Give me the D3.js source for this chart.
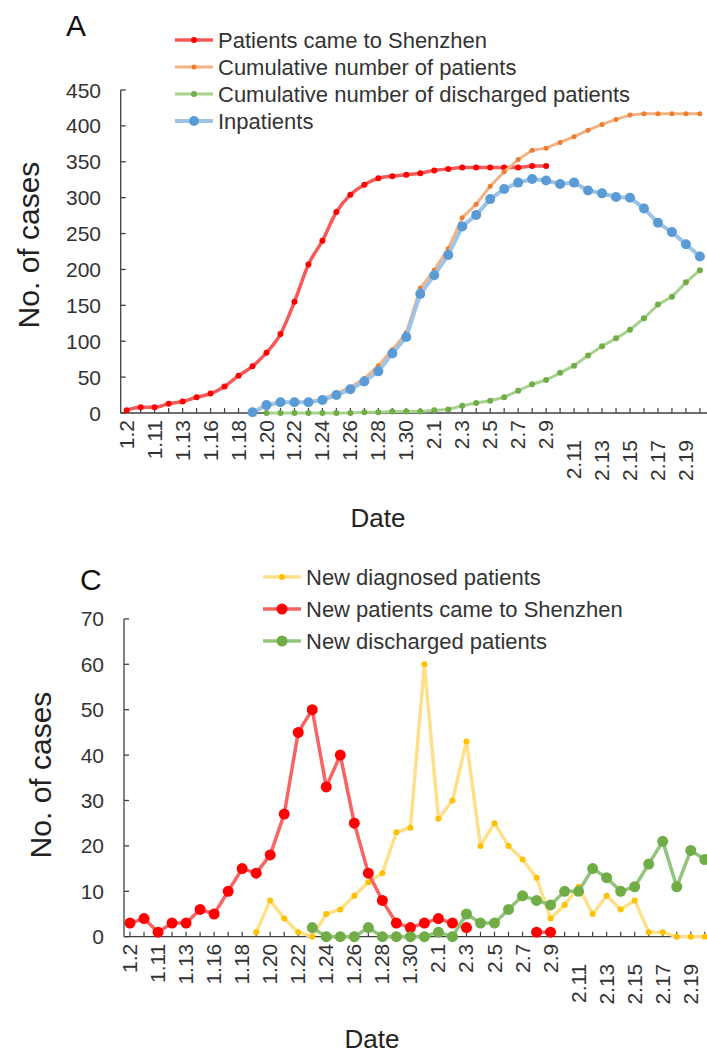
<!DOCTYPE html>
<html>
<head>
<meta charset="utf-8">
<script src="https://cdn.jsdelivr.net/npm/d3@7"></script>
<style>
body { margin: 0; background: #fff; }
svg { display: block; font-family: "Liberation Sans", Arial, sans-serif; }
</style>
</head>
<body>
<svg id="chart" width="707" height="1055"></svg>
<script>
"use strict";

const N = null;

// categories (x axis)
const dates = ["1.2", "1.10", "1.11", "1.12", "1.13", "1.15", "1.16", "1.17", "1.18", "1.19",
    "1.20", "1.21", "1.22", "1.23", "1.24", "1.25", "1.26", "1.27", "1.28", "1.29", "1.30", "1.31",
    "2.1", "2.2", "2.3", "2.4", "2.5", "2.6", "2.7", "2.8", "2.9", "2.10",
    "2.11", "2.12", "2.13", "2.14", "2.15", "2.16", "2.17", "2.18", "2.19", "2.20"];

// panel A series
const cameToShenzhen = [4, 8, 8, 13, 16, 22, 27, 37, 52, 65, 84, 110, 155, 207, 240, 280, 304, 318, 327, 330,
    332, 334, 338, 340, 342, 342, 342, 342, 342, 344, 344, N, N, N, N, N, N, N, N, N, N, N];
const cumulativePatients = [N, N, N, N, N, N, N, N, N, 1, 10, 15, 15, 15, 20, 27, 36, 48, 66, 88,
    112, 174, 199, 229, 272, 291, 316, 336, 353, 366, 369, 377, 385, 394, 402, 409, 415, 417, 417, 417, 417, 417];
const cumulativeDischarged = [N, N, N, N, N, N, N, N, N, N, 0, 0, 0, 0, 0, 0, 0, 1, 1, 2,
    2, 2, 4, 5, 10, 14, 17, 22, 31, 40, 46, 56, 66, 80, 93, 104, 116, 132, 151, 162, 182, 199];
const inpatients = [N, N, N, N, N, N, N, N, N, 1, 11, 15, 15, 15, 18, 25, 33, 44, 58, 83,
    106, 166, 192, 220, 260, 276, 298, 312, 321, 326, 324, 319, 321, 310, 306, 301, 300, 285, 265, 252, 235, 218];

// panel C series
const newDiagnosed = [N, N, N, N, N, N, N, N, N, 1, 8, 4, 1, 0, 5, 6, 9, 12, 14, 23,
    24, 60, 26, 30, 43, 20, 25, 20, 17, 13, 4, 7, 11, 5, 9, 6, 8, 1, 1, 0, 0, 0];
const newCame = [3, 4, 1, 3, 3, 6, 5, 10, 15, 14, 18, 27, 45, 50, 33, 40, 25, 14, 8, 3,
    2, 3, 4, 3, 2, N, N, N, N, 1, 1, N, N, N, N, N, N, N, N, N, N, N];
const newDischarged = [N, N, N, N, N, N, N, N, N, N, N, N, N, 2, 0, 0, 0, 2, 0, 0,
    0, 0, 1, 0, 5, 3, 3, 6, 9, 8, 7, 10, 10, 15, 13, 10, 11, 16, 21, 11, 19, 17];

// y tick values
const ticksA = [0, 50, 100, 150, 200, 250, 300, 350, 400, 450];
const ticksC = [0, 10, 20, 30, 40, 50, 60, 70];


let svg = d3.select("#chart");
svg.append("rect").attr("width", 707).attr("height", 1055).attr("fill", "#fff");


function panel(p) {

    let g = svg.append("g");

    // scales
    let x = d3.scaleBand()
    .domain(dates)
    .range(p.xRange);
    let cx = d => x(d) + x.bandwidth() / 2;

    let y = d3.scaleLinear()
    .domain(p.yDomain)
    .range(p.yRange);

    const left = p.xRange[0] + 1, bottom = p.yRange[0], top = p.yRange[1];

    // y axis
    g.append("line")
    .attr("x1", left).attr("x2", left)
    .attr("y1", top).attr("y2", bottom)
    .attr("stroke", "#404040").attr("stroke-width", 1.3);
    g.selectAll("line.ytick")
    .data(p.ticks)
    .enter()
    .append("line")
    .attr("class", "ytick")
    .attr("x1", left).attr("x2", left + 5)
    .attr("y1", d => y(d)).attr("y2", d => y(d))
    .attr("stroke", "#404040").attr("stroke-width", 1.3);
    g.selectAll("text.ylab")
    .data(p.ticks)
    .enter()
    .append("text")
    .attr("class", "ylab")
    .attr("x", p.yLabelX)
    .attr("y", d => y(d))
    .attr("dy", "0.36em")
    .attr("text-anchor", "end")
    .attr("font-size", 21)
    .attr("fill", "#333")
    .text(d => d);

    // x axis
    g.append("line")
    .attr("x1", left).attr("x2", 707)
    .attr("y1", bottom).attr("y2", bottom)
    .attr("stroke", "#404040").attr("stroke-width", 1.3);
    g.selectAll("line.xtick")
    .data(dates)
    .enter()
    .append("line")
    .attr("class", "xtick")
    .attr("x1", cx).attr("x2", cx)
    .attr("y1", bottom).attr("y2", bottom - 5)
    .attr("stroke", "#404040").attr("stroke-width", 1.2);
    g.selectAll("text.xlab")
    .data(dates.filter((d, i) => i % 2 == 0))
    .enter()
    .append("text")
    .attr("class", "xlab")
    .attr("transform", d => {
        // two digit days in february sit lower, as in the source
        let shift = (d.startsWith("2.") && d.length > 3) ? 20 : 0;
        return `translate(${cx(d) + 7}, ${bottom + 7 + shift}) rotate(-90)`;
    })
    .attr("text-anchor", "end")
    .attr("font-size", 21)
    .attr("fill", "#333")
    .text(d => d);

    // axis titles + panel letter
    g.append("text")
    .attr("transform", `translate(${p.yTitle[0]}, ${p.yTitle[1]}) rotate(-90)`)
    .attr("text-anchor", "middle")
    .attr("font-size", 30)
    .attr("fill", "#222")
    .text("No. of cases");
    g.append("text")
    .attr("x", p.xTitle[0]).attr("y", p.xTitle[1])
    .attr("text-anchor", "middle")
    .attr("font-size", 26)
    .attr("fill", "#222")
    .text("Date");
    g.append("text")
    .attr("x", p.letter[0]).attr("y", p.letter[1])
    .attr("font-size", 30)
    .attr("fill", "#111")
    .text(p.name);

    // lines + markers
    p.series.forEach(s => {
        let line = d3.line()
        .defined(d => d != null)
        .x((d, i) => cx(dates[i]))
        .y(d => y(d))
        .curve(s.smooth ? d3.curveMonotoneX : d3.curveLinear);
        g.append("path")
        .datum(s.values)
        .attr("d", line)
        .attr("fill", "none")
        .attr("stroke", s.line)
        .attr("stroke-width", s.width)
        .attr("stroke-linejoin", "round");
        g.append("g")
        .selectAll("circle")
        .data(s.values.map((v, i) => [dates[i], v]).filter(d => d[1] != null))
        .enter()
        .append("circle")
        .attr("cx", d => cx(d[0]))
        .attr("cy", d => y(d[1]))
        .attr("r", s.r)
        .attr("fill", s.dot);
    });

    // legend
    p.legendOrder.forEach((k, i) => {
        let s = p.series[k];
        let ly = p.legend.y + i * p.legend.step;
        g.append("line")
        .attr("x1", p.legend.x).attr("x2", p.legend.x + 38)
        .attr("y1", ly).attr("y2", ly)
        .attr("stroke", s.line).attr("stroke-width", s.width);
        g.append("circle")
        .attr("cx", p.legend.x + 19).attr("cy", ly)
        .attr("r", s.r).attr("fill", s.dot);
        g.append("text")
        .attr("x", p.legend.x + 43).attr("y", ly)
        .attr("dy", "0.35em")
        .attr("font-size", 22)
        .attr("fill", "#333")
        .text(s.label);
    });
}


// panel A
panel({
    name: "A",
    xRange: [119.7, 706.9],
    yDomain: [0, 450],
    yRange: [413, 90],
    ticks: ticksA,
    yLabelX: 101,
    yTitle: [39, 245],
    xTitle: [378, 527],
    letter: [66, 36],
    legend: {x: 175, y: 40, step: 27},
    legendOrder: [0, 1, 2, 3],
    series: [
        {label: "Patients came to Shenzhen", values: cameToShenzhen, line: "#f55a5a", dot: "#ff0000", width: 3.5, r: 3, smooth: true},
        {label: "Cumulative number of patients", values: cumulativePatients, line: "#f4b183", dot: "#ed7d31", width: 3, r: 2.5},
        {label: "Cumulative number of discharged patients", values: cumulativeDischarged, line: "#a9d18e", dot: "#70ad47", width: 3, r: 3},
        {label: "Inpatients", values: inpatients, line: "#9dc3e6", dot: "#5b9bd5", width: 4, r: 5}
    ]
});

// panel C
panel({
    name: "C",
    xRange: [123, 711.8],
    yDomain: [0, 70],
    yRange: [936.7, 618.9],
    ticks: ticksC,
    yLabelX: 104,
    yTitle: [51, 775],
    xTitle: [372, 1048],
    letter: [80, 590],
    legend: {x: 263, y: 577, step: 32},
    legendOrder: [0, 1, 2],
    series: [
        {label: "New diagnosed patients", values: newDiagnosed, line: "#ffe08a", dot: "#ffc000", width: 3.5, r: 3},
        {label: "New patients came to Shenzhen", values: newCame, line: "#f86464", dot: "#ff0000", width: 3.5, r: 5.5},
        {label: "New discharged patients", values: newDischarged, line: "#93c47d", dot: "#70ad47", width: 3.5, r: 5.5}
    ]
});
</script>
</body>
</html>
